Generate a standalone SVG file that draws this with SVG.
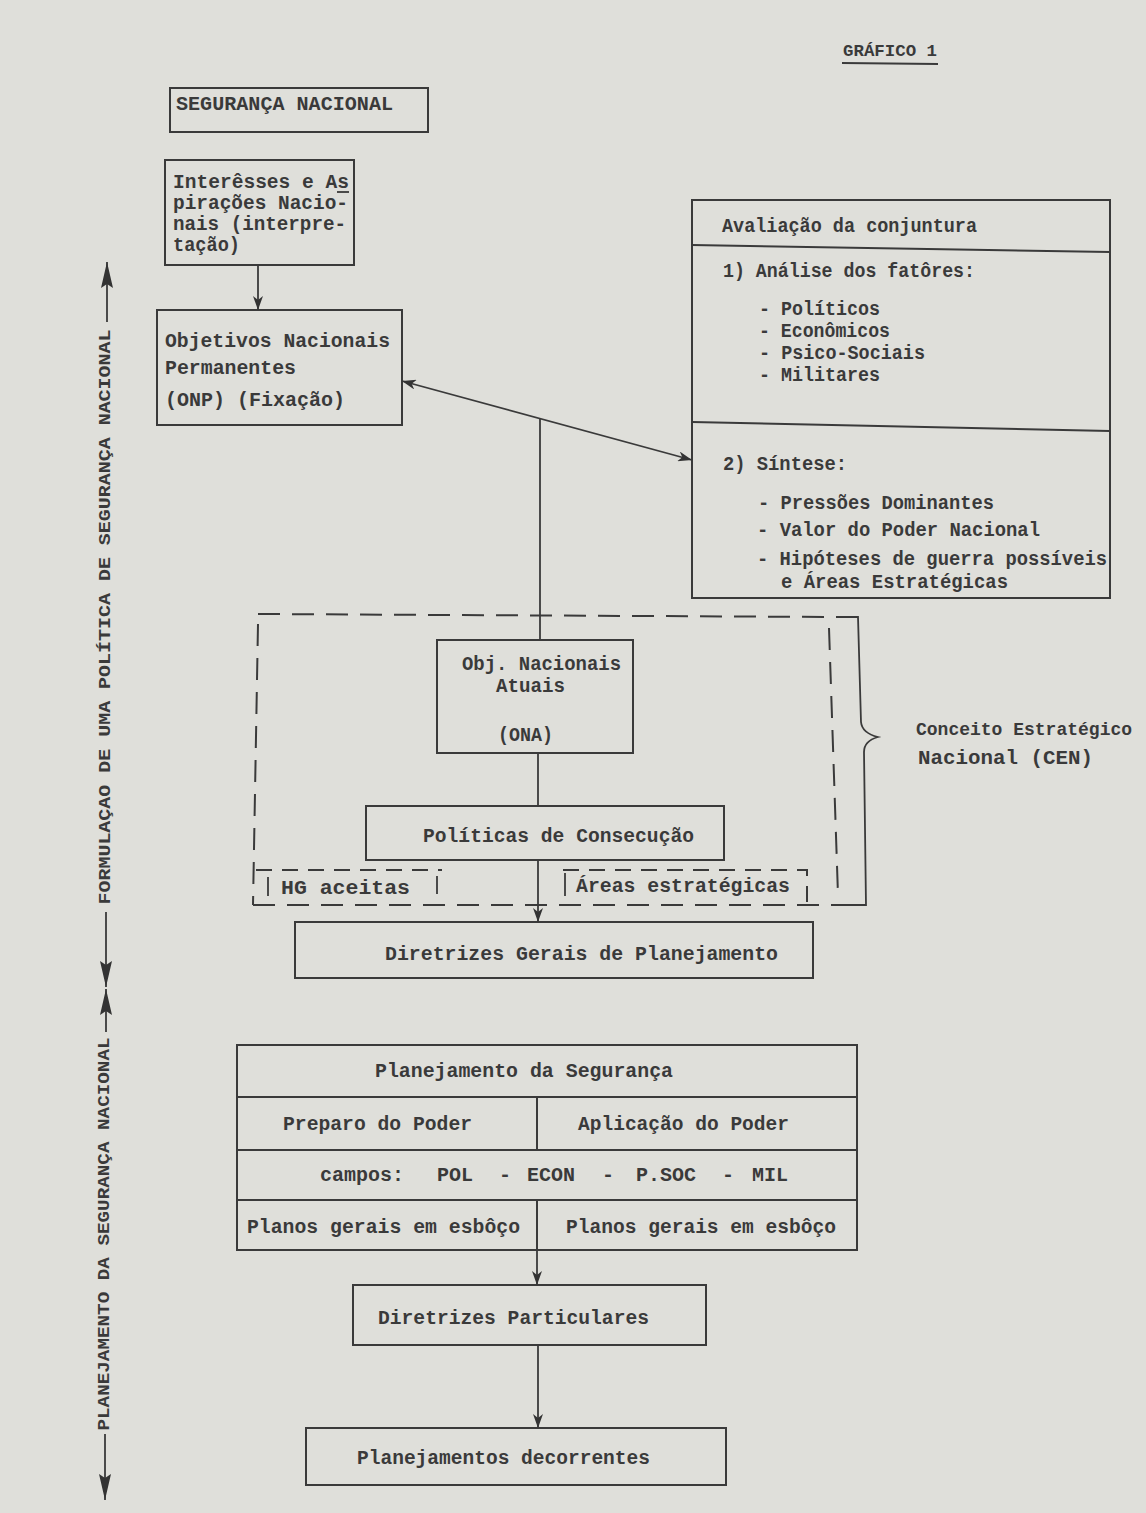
<svg xmlns="http://www.w3.org/2000/svg" width="1146" height="1513" viewBox="0 0 1146 1513">
<style>
  .t { font-family: "Liberation Mono", "Courier New", monospace; font-size: 20px; fill: #3a3a3a; font-weight: bold; }
  .v { font-family: "Liberation Mono", "Courier New", monospace; font-size: 17px; fill: #3a3a3a; font-weight: bold; }
  .box { fill: none; stroke: #3a3a3a; stroke-width: 2; }
  .ln { fill: none; stroke: #3a3a3a; stroke-width: 1.8; }
  .dash { fill: none; stroke: #3a3a3a; stroke-width: 2; stroke-dasharray: 22 12; }
  .dash2 { fill: none; stroke: #3a3a3a; stroke-width: 2; stroke-dasharray: 16 10; }
</style>
<defs>
  <marker id="ah" viewBox="0 0 14 10" refX="14" refY="5" markerWidth="14" markerHeight="10" markerUnits="userSpaceOnUse" orient="auto-start-reverse">
    <path d="M0,0 L14,5 L0,10 L4,5 z" fill="#333"/>
  </marker>
  <marker id="big" viewBox="0 0 26 12" refX="26" refY="6" markerWidth="26" markerHeight="12" markerUnits="userSpaceOnUse" orient="auto-start-reverse">
    <path d="M0,0 L26,6 L0,12 L4,6 z" fill="#333"/>
  </marker>
</defs>
<rect x="0" y="0" width="1146" height="1513" fill="#dfdfda"/>

<g id="title">
  <text class="t" x="843" y="56" style="font-size:17px" textLength="94" lengthAdjust="spacingAndGlyphs">GRÁFICO 1</text>
  <line class="ln" x1="842" y1="63" x2="938" y2="64"/>
</g>

<g id="seguranca">
  <rect class="box" x="170" y="88" width="258" height="44"/>
  <text class="t" x="176" y="110" textLength="217" lengthAdjust="spacingAndGlyphs">SEGURANÇA NACIONAL</text>
</g>

<g id="interesses">
  <rect class="box" x="165" y="160" width="189" height="105"/>
  <text class="t" x="173" y="188" textLength="176" lengthAdjust="spacingAndGlyphs">Interêsses e As</text>
  <line class="ln" x1="337" y1="192" x2="349" y2="192" stroke-width="1.5"/>
  <text class="t" x="173" y="209" textLength="175" lengthAdjust="spacingAndGlyphs">pirações Nacio-</text>
  <text class="t" x="173" y="230" textLength="173" lengthAdjust="spacingAndGlyphs">nais (interpre-</text>
  <text class="t" x="173" y="251" textLength="67" lengthAdjust="spacingAndGlyphs">tação)</text>
</g>

<g id="onp">
  <rect class="box" x="157" y="310" width="245" height="115"/>
  <text class="t" x="165" y="347" textLength="225" lengthAdjust="spacingAndGlyphs">Objetivos Nacionais</text>
  <text class="t" x="165" y="374" textLength="131" lengthAdjust="spacingAndGlyphs">Permanentes</text>
  <text class="t" x="165" y="406" textLength="180" lengthAdjust="spacingAndGlyphs">(ONP) (Fixação)</text>
</g>

<g id="avaliacao">
  <rect class="box" x="692" y="200" width="418" height="398"/>
  <line class="box" x1="692" y1="245" x2="1110" y2="252"/>
  <line class="box" x1="692" y1="422" x2="1110" y2="431"/>
  <text class="t" x="722" y="232" textLength="255" lengthAdjust="spacingAndGlyphs">Avaliação da conjuntura</text>
  <text class="t" x="723" y="277" textLength="252" lengthAdjust="spacingAndGlyphs">1) Análise dos fatôres:</text>
  <text class="t" x="759" y="315" textLength="121" lengthAdjust="spacingAndGlyphs">- Políticos</text>
  <text class="t" x="759" y="337" textLength="131" lengthAdjust="spacingAndGlyphs">- Econômicos</text>
  <text class="t" x="759" y="359" textLength="166" lengthAdjust="spacingAndGlyphs">- Psico-Sociais</text>
  <text class="t" x="759" y="381" textLength="121" lengthAdjust="spacingAndGlyphs">- Militares</text>
  <text class="t" x="723" y="470" textLength="124" lengthAdjust="spacingAndGlyphs">2) Síntese:</text>
  <text class="t" x="758" y="509" textLength="236" lengthAdjust="spacingAndGlyphs">- Pressões Dominantes</text>
  <text class="t" x="757" y="536" textLength="283" lengthAdjust="spacingAndGlyphs">- Valor do Poder Nacional</text>
  <text class="t" x="757" y="565" textLength="350" lengthAdjust="spacingAndGlyphs">- Hipóteses de guerra possíveis</text>
  <text class="t" x="781" y="588" textLength="227" lengthAdjust="spacingAndGlyphs">e Áreas Estratégicas</text>
</g>

<g id="cen-frame">
  <path class="dash" d="M258,614 L836,617"/>
  <path class="dash" d="M258,624 L253,905"/>
  <path class="dash" d="M829,628 L838,895"/>
  <path class="dash" d="M253,905 L850,905"/>
  <path class="ln" d="M836,617 L858,617 L861,722 Q862,733 878,737 Q864,741 864,752 L866,905 L850,905"/>
  <path class="dash2" d="M256,870 L442,870"/>
  <line class="ln" x1="268" y1="877" x2="268" y2="896"/>
  <line class="ln" x1="437" y1="876" x2="437" y2="894"/>
  <path class="dash2" d="M563,870 L807,870 L807,904"/>
  <line class="ln" x1="565" y1="873" x2="565" y2="896"/>
</g>

<g id="cen-label">
  <text class="t" x="916" y="735" style="font-size:18px">Conceito Estratégico</text>
  <text class="t" x="918" y="764" textLength="175" lengthAdjust="spacingAndGlyphs">Nacional (CEN)</text>
</g>

<g id="ona">
  <rect class="box" x="437" y="640" width="196" height="113"/>
  <text class="t" x="462" y="670" textLength="159" lengthAdjust="spacingAndGlyphs">Obj. Nacionais</text>
  <text class="t" x="496" y="692" textLength="69" lengthAdjust="spacingAndGlyphs">Atuais</text>
  <text class="t" x="498" y="741" textLength="55" lengthAdjust="spacingAndGlyphs">(ONA)</text>
</g>

<g id="politicas">
  <rect class="box" x="366" y="806" width="358" height="54"/>
  <text class="t" x="423" y="842" textLength="271" lengthAdjust="spacingAndGlyphs">Políticas de Consecução</text>
</g>

<g id="hg">
  <text class="t" x="281" y="894" textLength="129" lengthAdjust="spacingAndGlyphs">HG  aceitas</text>
</g>
<g id="areas">
  <text class="t" x="576" y="892" textLength="214" lengthAdjust="spacingAndGlyphs">Áreas estratégicas</text>
</g>

<g id="diretrizes-gerais">
  <rect class="box" x="295" y="922" width="518" height="56"/>
  <text class="t" x="385" y="960" textLength="393" lengthAdjust="spacingAndGlyphs">Diretrizes Gerais de Planejamento</text>
</g>

<g id="planejamento-seguranca">
  <rect class="box" x="237" y="1045" width="620" height="205"/>
  <line class="box" x1="237" y1="1097" x2="857" y2="1097"/>
  <line class="box" x1="237" y1="1150" x2="857" y2="1150"/>
  <line class="box" x1="237" y1="1200" x2="857" y2="1200"/>
  <line class="box" x1="537" y1="1097" x2="537" y2="1150"/>
  <line class="box" x1="537" y1="1200" x2="537" y2="1250"/>
  <text class="t" x="375" y="1077" textLength="298" lengthAdjust="spacingAndGlyphs">Planejamento da Segurança</text>
  <text class="t" x="283" y="1130" textLength="189" lengthAdjust="spacingAndGlyphs">Preparo do Poder</text>
  <text class="t" x="578" y="1130" textLength="211" lengthAdjust="spacingAndGlyphs">Aplicação do Poder</text>
  <text class="t" y="1181"><tspan x="320">campos:</tspan><tspan x="437">POL</tspan><tspan x="499">-</tspan><tspan x="527">ECON</tspan><tspan x="602">-</tspan><tspan x="636">P.SOC</tspan><tspan x="722">-</tspan><tspan x="752">MIL</tspan></text>
  <text class="t" x="247" y="1233" textLength="273" lengthAdjust="spacingAndGlyphs">Planos gerais em esbôço</text>
  <text class="t" x="566" y="1233" textLength="270" lengthAdjust="spacingAndGlyphs">Planos gerais em esbôço</text>
</g>

<g id="diretrizes-particulares">
  <rect class="box" x="353" y="1285" width="353" height="60"/>
  <text class="t" x="378" y="1324" textLength="271" lengthAdjust="spacingAndGlyphs">Diretrizes Particulares</text>
</g>

<g id="planejamentos-decorrentes">
  <rect class="box" x="306" y="1428" width="420" height="57"/>
  <text class="t" x="357" y="1464" textLength="293" lengthAdjust="spacingAndGlyphs">Planejamentos decorrentes</text>
</g>

<g id="side-labels">
  <text class="v" transform="translate(110,617) rotate(-90)" x="0" y="0" text-anchor="middle" textLength="575" lengthAdjust="spacingAndGlyphs">FORMULAÇAO DE UMA POLÍTICA DE SEGURANÇA NACIONAL</text>
  <text class="v" transform="translate(109,1234) rotate(-90)" x="0" y="0" text-anchor="middle" textLength="393" lengthAdjust="spacingAndGlyphs">PLANEJAMENTO DA SEGURANÇA NACIONAL</text>
</g>

<g id="connectors">
  <line class="ln" x1="258" y1="265" x2="258" y2="310" marker-end="url(#ah)"/>
  <line class="ln" x1="402" y1="381" x2="692" y2="460" marker-start="url(#ah)" marker-end="url(#ah)"/>
  <line class="ln" x1="540" y1="419" x2="540" y2="640"/>
  <line class="ln" x1="538" y1="753" x2="538" y2="806"/>
  <line class="ln" x1="538" y1="860" x2="538" y2="922" marker-end="url(#ah)"/>
  <line class="ln" x1="537" y1="1250" x2="537" y2="1285" marker-end="url(#ah)"/>
  <line class="ln" x1="538" y1="1345" x2="538" y2="1428" marker-end="url(#ah)"/>
  <line class="ln" x1="107" y1="322" x2="107" y2="262" marker-end="url(#big)"/>
  <line class="ln" x1="106" y1="912" x2="106" y2="987" marker-end="url(#big)"/>
  <line class="ln" x1="106" y1="1032" x2="106" y2="989" marker-end="url(#big)"/>
  <line class="ln" x1="105" y1="1434" x2="105" y2="1500" marker-end="url(#big)"/>
</g>
</svg>
